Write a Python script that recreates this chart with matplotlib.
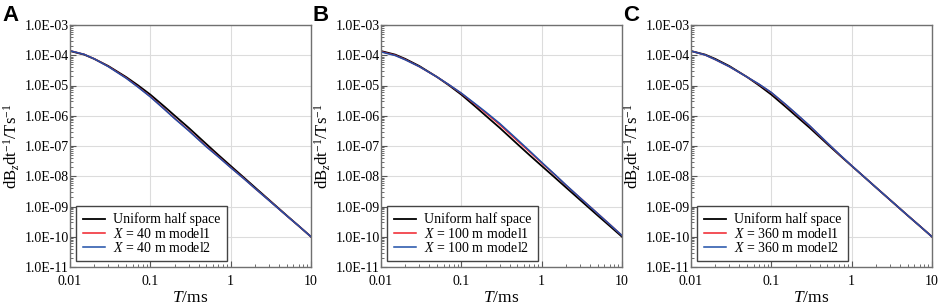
import numpy as np
import matplotlib
matplotlib.use('Agg')
import matplotlib.pyplot as plt
from matplotlib.ticker import LogLocator, FixedLocator, NullFormatter

plt.rcParams['font.family'] = ['Liberation Serif', 'DejaVu Serif']
plt.rcParams['mathtext.fontset'] = 'custom'
plt.rcParams['mathtext.rm'] = 'Liberation Serif'
plt.rcParams['mathtext.it'] = 'Liberation Serif:italic'

# time channels (ms)
T = [0.01, 0.015, 0.02, 0.03, 0.05, 0.07, 0.1, 0.15, 0.2, 0.3,
     0.5, 0.7, 1, 1.5, 2, 3, 5, 7, 10]

# uniform half space response (same in all panels)
uniform = [1.38e-4, 1.05e-4, 7.6e-5, 4.4e-5, 1.9e-5, 1.02e-5, 5.0e-6, 2.0e-6,
           1.02e-6, 4.0e-7, 1.15e-7, 5.1e-8, 2.2e-8, 8.5e-9, 4.3e-9, 1.66e-9,
           5.0e-10, 2.3e-10, 1.0e-10]

# panel A, X = 40 m
a_model1 = [1.41e-4, 1.07e-4, 7.6e-5, 4.25e-5, 1.78e-5, 9.1e-6, 4.3e-6, 1.66e-6,
            8.3e-7, 3.3e-7, 9.6e-8, 4.5e-8, 1.96e-8, 7.9e-9, 4.0e-9, 1.6e-9,
            4.9e-10, 2.3e-10, 1.0e-10]
a_model2 = [1.41e-4, 1.07e-4, 7.6e-5, 4.2e-5, 1.74e-5, 8.9e-6, 4.2e-6, 1.62e-6,
            8.1e-7, 3.2e-7, 9.3e-8, 4.4e-8, 1.93e-8, 7.8e-9, 4.0e-9, 1.58e-9,
            4.9e-10, 2.3e-10, 1.0e-10]

# panel B, X = 100 m
b_model1 = [1.32e-4, 1.0e-4, 7.2e-5, 4.2e-5, 1.9e-5, 1.06e-5, 5.5e-6, 2.34e-6,
            1.26e-6, 5.1e-7, 1.48e-7, 6.6e-8, 2.75e-8, 1.05e-8, 5.1e-9, 1.95e-9,
            5.8e-10, 2.6e-10, 1.1e-10]
b_model2 = [1.29e-4, 9.8e-5, 7.1e-5, 4.2e-5, 1.9e-5, 1.07e-5, 5.6e-6, 2.45e-6,
            1.35e-6, 5.6e-7, 1.62e-7, 7.1e-8, 2.9e-8, 1.07e-8, 5.2e-9, 1.95e-9,
            5.8e-10, 2.6e-10, 1.1e-10]

# panel C, X = 360 m
c_model1 = [1.38e-4, 1.02e-4, 7.2e-5, 4.2e-5, 1.9e-5, 1.1e-5, 5.8e-6, 2.35e-6,
            1.2e-6, 4.6e-7, 1.24e-7, 5.3e-8, 2.23e-8, 8.5e-9, 4.3e-9, 1.66e-9,
            5.0e-10, 2.3e-10, 1.0e-10]
c_model2 = [1.38e-4, 1.02e-4, 7.2e-5, 4.2e-5, 1.9e-5, 1.12e-5, 5.9e-6, 2.4e-6,
            1.23e-6, 4.7e-7, 1.26e-7, 5.4e-8, 2.24e-8, 8.5e-9, 4.3e-9, 1.66e-9,
            5.0e-10, 2.3e-10, 1.0e-10]

panels = [('A', 40, a_model1, a_model2),
          ('B', 100, b_model1, b_model2),
          ('C', 360, c_model1, c_model2)]

y_ticks = [10.0 ** e for e in range(-11, -2)]
y_labels = ['1.0E-%02d' % -e for e in range(-11, -2)]
x_ticks = [0.01, 0.1, 1, 10]
x_labels = ['0.01', '0.1', '1', '10']

fig = plt.figure(figsize=(9.41, 3.04), dpi=100)
lefts = [70, 381, 691]

for (letter, dist, m1, m2), left in zip(panels, lefts):
    ax = fig.add_axes([left / 941, 37 / 304, 241 / 941, 242 / 304])
    ax.plot(T, uniform, color='black', lw=1.3, label='Uniform half space')
    ax.plot(T, m1, color='#f0202a', lw=1.1, label=r'$X$ = %d m model1' % dist)
    ax.plot(T, m2, color='#1f4fa8', lw=1.1, label=r'$X$ = %d m model2' % dist)
    ax.set_xscale('log')
    ax.set_yscale('log')
    ax.set_xlim(0.01, 10)
    ax.set_ylim(1e-11, 1e-3)

    ax.xaxis.set_major_locator(FixedLocator(x_ticks))
    ax.set_xticklabels(x_labels)
    ax.yaxis.set_major_locator(FixedLocator(y_ticks))
    ax.set_yticklabels(y_labels)
    ax.xaxis.set_minor_locator(LogLocator(base=10, subs=np.arange(2, 10)))
    ax.yaxis.set_minor_locator(LogLocator(base=10, subs=np.arange(2, 10), numticks=20))
    ax.xaxis.set_minor_formatter(NullFormatter())
    ax.yaxis.set_minor_formatter(NullFormatter())

    ax.tick_params(which='both', direction='in', colors='#555555', labelcolor='black',
                   labelsize=10)
    ax.tick_params(which='major', length=4, width=0.8)
    ax.tick_params(which='minor', length=2, width=0.6)
    ax.tick_params(axis='x', pad=6)
    ax.tick_params(axis='y', pad=1)
    ax.grid(True, which='major', color='#dcdcdc', lw=0.8)
    for s in ax.spines.values():
        s.set_color('#707070')
        s.set_linewidth(1.0)

    ax.set_xlabel(r'$T$/ms', fontsize=12.5, labelpad=1)
    ax.set_ylabel(r'dB$_z$dt$^{-1}$/Ts$^{-1}$', fontsize=12, labelpad=2)

    leg = ax.legend(loc='lower left', fontsize=10, frameon=True, fancybox=False,
                    borderaxespad=0.45, handlelength=1.6, handletextpad=0.6,
                    labelspacing=0.0, borderpad=0.45)
    leg.get_frame().set_edgecolor('#444444')
    leg.get_frame().set_linewidth(1.0)
    leg.get_frame().set_alpha(1)

    fig.text((left - 68) / 941, 0.985, letter, fontsize=16, fontweight='bold',
             family='Liberation Sans', va='top', ha='left')

fig.savefig('out.png', dpi=100)
